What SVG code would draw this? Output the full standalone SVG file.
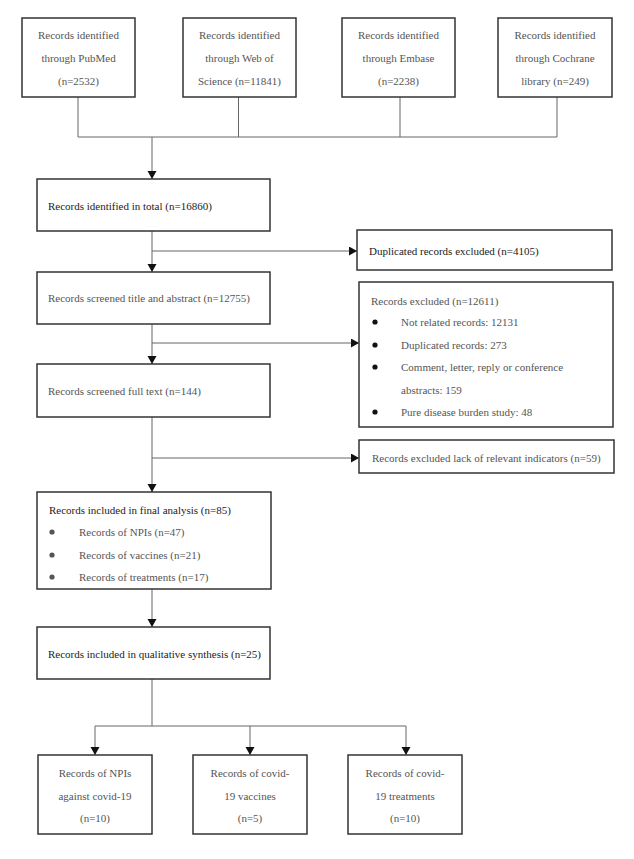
<svg xmlns="http://www.w3.org/2000/svg" width="634" height="859" viewBox="0 0 634 859">
<style>
.box{fill:#fff;stroke:#333;stroke-width:1.5}
.t{font-family:"Liberation Serif","Times New Roman",serif;font-size:11px;fill:#555}
.d{fill:#222}
.c{text-anchor:middle}
.ln{fill:none;stroke:#666;stroke-width:1}
.bk{fill:#111}
.gy{fill:#555}
</style>
<defs>
<marker id="ah" markerUnits="userSpaceOnUse" markerWidth="10" markerHeight="10" refX="8" refY="4.5" orient="auto">
<path d="M0,0 L8,4.5 L0,9 Z" fill="#111"/>
</marker>
</defs>
<rect width="634" height="859" fill="#fff"/>
<g id="connectors">
<path class="ln" d="M78,97 V137 M238.5,97 V137 M400,97 V137 M557,97 V137 M78,137 H557"/>
<path class="ln" d="M152,137 V179" marker-end="url(#ah)"/>
<path class="ln" d="M152,231 V272" marker-end="url(#ah)"/>
<path class="ln" d="M152,251 H357" marker-end="url(#ah)"/>
<path class="ln" d="M152,324 V364" marker-end="url(#ah)"/>
<path class="ln" d="M152,343 H359" marker-end="url(#ah)"/>
<path class="ln" d="M152,417 V492" marker-end="url(#ah)"/>
<path class="ln" d="M152,458 H359" marker-end="url(#ah)"/>
<path class="ln" d="M152,589 V627" marker-end="url(#ah)"/>
<path class="ln" d="M152,679 V726 M95,726 H406"/>
<path class="ln" d="M95,726 V755" marker-end="url(#ah)"/>
<path class="ln" d="M250,726 V755" marker-end="url(#ah)"/>
<path class="ln" d="M406,726 V755" marker-end="url(#ah)"/>
</g>
<g id="pubmed">
<rect class="box" x="22" y="18" width="113" height="79"/>
<text class="t c" x="78.5" y="39">Records identified</text>
<text class="t c" x="78.5" y="62">through PubMed</text>
<text class="t c" x="78.5" y="85">(n=2532)</text>
</g>
<g id="wos">
<rect class="box" x="183" y="18" width="113" height="79"/>
<text class="t c" x="239.5" y="39">Records identified</text>
<text class="t c" x="239.5" y="62">through Web of</text>
<text class="t c" x="239.5" y="85">Science (n=11841)</text>
</g>
<g id="embase">
<rect class="box" x="342" y="18" width="113" height="79"/>
<text class="t c" x="398.5" y="39">Records identified</text>
<text class="t c" x="398.5" y="62">through Embase</text>
<text class="t c" x="398.5" y="85">(n=2238)</text>
</g>
<g id="cochrane">
<rect class="box" x="498" y="18" width="114" height="79"/>
<text class="t c" x="555" y="39">Records identified</text>
<text class="t c" x="555" y="62">through Cochrane</text>
<text class="t c" x="555" y="85">library (n=249)</text>
</g>
<g id="total">
<rect class="box" x="37" y="179" width="233" height="52"/>
<text class="t d" x="48" y="210">Records identified in total (n=16860)</text>
</g>
<g id="duplicated">
<rect class="box" x="357" y="230" width="255" height="40"/>
<text class="t d" x="369" y="255">Duplicated records excluded (n=4105)</text>
</g>
<g id="screened">
<rect class="box" x="37" y="272" width="233" height="52"/>
<text class="t" x="48" y="302">Records screened title and abstract (n=12755)</text>
</g>
<g id="excluded">
<rect class="box" x="359" y="282" width="254" height="145"/>
<text class="t" x="371" y="305">Records excluded (n=12611)</text>
<circle class="bk" cx="375" cy="322" r="2.6"/>
<text class="t" x="401" y="326">Not related records: 12131</text>
<circle class="bk" cx="375" cy="345" r="2.6"/>
<text class="t" x="401" y="349">Duplicated records: 273</text>
<circle class="bk" cx="375" cy="367" r="2.6"/>
<text class="t" x="401" y="371">Comment, letter, reply or conference</text>
<text class="t" x="401" y="394">abstracts: 159</text>
<circle class="bk" cx="375" cy="412" r="2.6"/>
<text class="t" x="401" y="416">Pure disease burden study: 48</text>
</g>
<g id="fulltext">
<rect class="box" x="37" y="364" width="233" height="53"/>
<text class="t" x="48" y="395">Records screened full text (n=144)</text>
</g>
<g id="lack">
<rect class="box" x="359" y="440" width="255" height="33"/>
<text class="t" x="372" y="462">Records excluded lack of relevant indicators (n=59)</text>
</g>
<g id="final">
<rect class="box" x="37" y="492" width="234" height="97"/>
<text class="t d" x="49" y="514">Records included in final analysis (n=85)</text>
<circle class="gy" cx="52" cy="532" r="2.6"/>
<text class="t" x="79" y="536">Records of NPIs (n=47)</text>
<circle class="gy" cx="52" cy="555" r="2.6"/>
<text class="t" x="79" y="559">Records of vaccines (n=21)</text>
<circle class="gy" cx="52" cy="577" r="2.6"/>
<text class="t" x="79" y="581">Records of treatments (n=17)</text>
</g>
<g id="qualitative">
<rect class="box" x="37" y="627" width="233" height="52"/>
<text class="t d" x="48" y="658">Records included in qualitative synthesis (n=25)</text>
</g>
<g id="npis">
<rect class="box" x="38" y="755" width="114" height="79"/>
<text class="t c" x="95" y="777">Records of NPIs</text>
<text class="t c" x="95" y="800">against covid-19</text>
<text class="t c" x="95" y="822">(n=10)</text>
</g>
<g id="vaccines">
<rect class="box" x="193" y="755" width="114" height="79"/>
<text class="t c" x="250" y="777">Records of covid-</text>
<text class="t c" x="250" y="800">19 vaccines</text>
<text class="t c" x="250" y="822">(n=5)</text>
</g>
<g id="treatments">
<rect class="box" x="348" y="755" width="114" height="79"/>
<text class="t c" x="405" y="777">Records of covid-</text>
<text class="t c" x="405" y="800">19 treatments</text>
<text class="t c" x="405" y="822">(n=10)</text>
</g>
</svg>
